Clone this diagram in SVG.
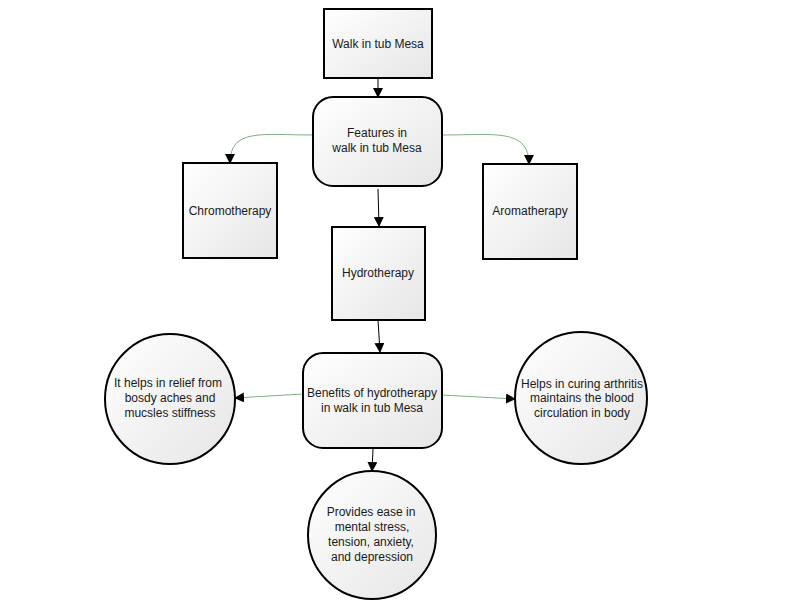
<svg xmlns="http://www.w3.org/2000/svg" width="800" height="600" viewBox="0 0 800 600">
<defs>
<linearGradient id="g" x1="0" y1="0" x2="1" y2="1">
<stop offset="0" stop-color="#ffffff"/>
<stop offset="1" stop-color="#e6e6e6"/>
</linearGradient>
<marker id="ah" markerWidth="10" markerHeight="10" refX="9" refY="5" orient="auto" markerUnits="userSpaceOnUse">
<path d="M0,0 L10,5 L0,10 Z" fill="#000"/>
</marker>
<style>
.n{fill:url(#g);stroke:#000;stroke-width:2}
.t{font-family:"Liberation Sans",Arial,sans-serif;font-size:12px;fill:#1a1a1a;text-anchor:middle}
.k{fill:none;stroke:#000;stroke-width:1}
.gr{fill:none;stroke:#7fb27f;stroke-width:1}
</style>
</defs>
<rect width="800" height="600" fill="#fff"/>
<g id="connectors">
<path class="k" d="M378,78 L378,97" marker-end="url(#ah)"/>
<path class="gr" d="M313,135 C262,135 230,128 230,163" marker-end="url(#ah)"/>
<path class="gr" d="M442,135 C494,135 529,128 529,164" marker-end="url(#ah)"/>
<path class="k" d="M378,189 L379,226" marker-end="url(#ah)"/>
<path class="k" d="M378,320 L380,352" marker-end="url(#ah)"/>
<path class="gr" d="M303,394 L235,398" marker-end="url(#ah)"/>
<path class="gr" d="M442,395 L515,399" marker-end="url(#ah)"/>
<path class="k" d="M373,449 L372,471" marker-end="url(#ah)"/>
</g>
<g id="walk">
<rect class="n" x="324" y="9" width="108" height="69"/>
<text class="t" x="378" y="48">Walk in tub Mesa</text>
</g>
<g id="features">
<rect class="n" x="313" y="97" width="129" height="89" rx="20" ry="20"/>
<text class="t" x="377" y="137">Features in</text>
<text class="t" x="377" y="152">walk in tub Mesa</text>
</g>
<g id="chromo">
<rect class="n" x="183" y="163" width="94" height="95"/>
<text class="t" x="230" y="215">Chromotherapy</text>
</g>
<g id="aroma">
<rect class="n" x="483" y="164" width="94" height="95"/>
<text class="t" x="530" y="215">Aromatherapy</text>
</g>
<g id="hydro">
<rect class="n" x="332" y="227" width="93" height="93"/>
<text class="t" x="378" y="277">Hydrotherapy</text>
</g>
<g id="benefits">
<rect class="n" x="303" y="353" width="139" height="95" rx="20" ry="20"/>
<text class="t" x="372" y="397">Benefits of hydrotherapy</text>
<text class="t" x="372" y="412">in walk in tub Mesa</text>
</g>
<g id="relief">
<circle class="n" cx="170" cy="399" r="65"/>
<text class="t" x="168" y="387">It helps in relief from</text>
<text class="t" x="170" y="402">bosdy aches and</text>
<text class="t" x="170" y="417">mucsles stiffness</text>
</g>
<g id="arthritis">
<circle class="n" cx="581" cy="398" r="66"/>
<text class="t" x="582" y="388">Helps in curing arthritis</text>
<text class="t" x="582" y="402">maintains the blood</text>
<text class="t" x="582" y="417">circulation in body</text>
</g>
<g id="ease">
<circle class="n" cx="372" cy="535" r="64"/>
<text class="t" x="371" y="516">Provides ease in</text>
<text class="t" x="372" y="531">mental stress,</text>
<text class="t" x="371" y="546">tension, anxiety,</text>
<text class="t" x="372" y="561">and depression</text>
</g>
</svg>
